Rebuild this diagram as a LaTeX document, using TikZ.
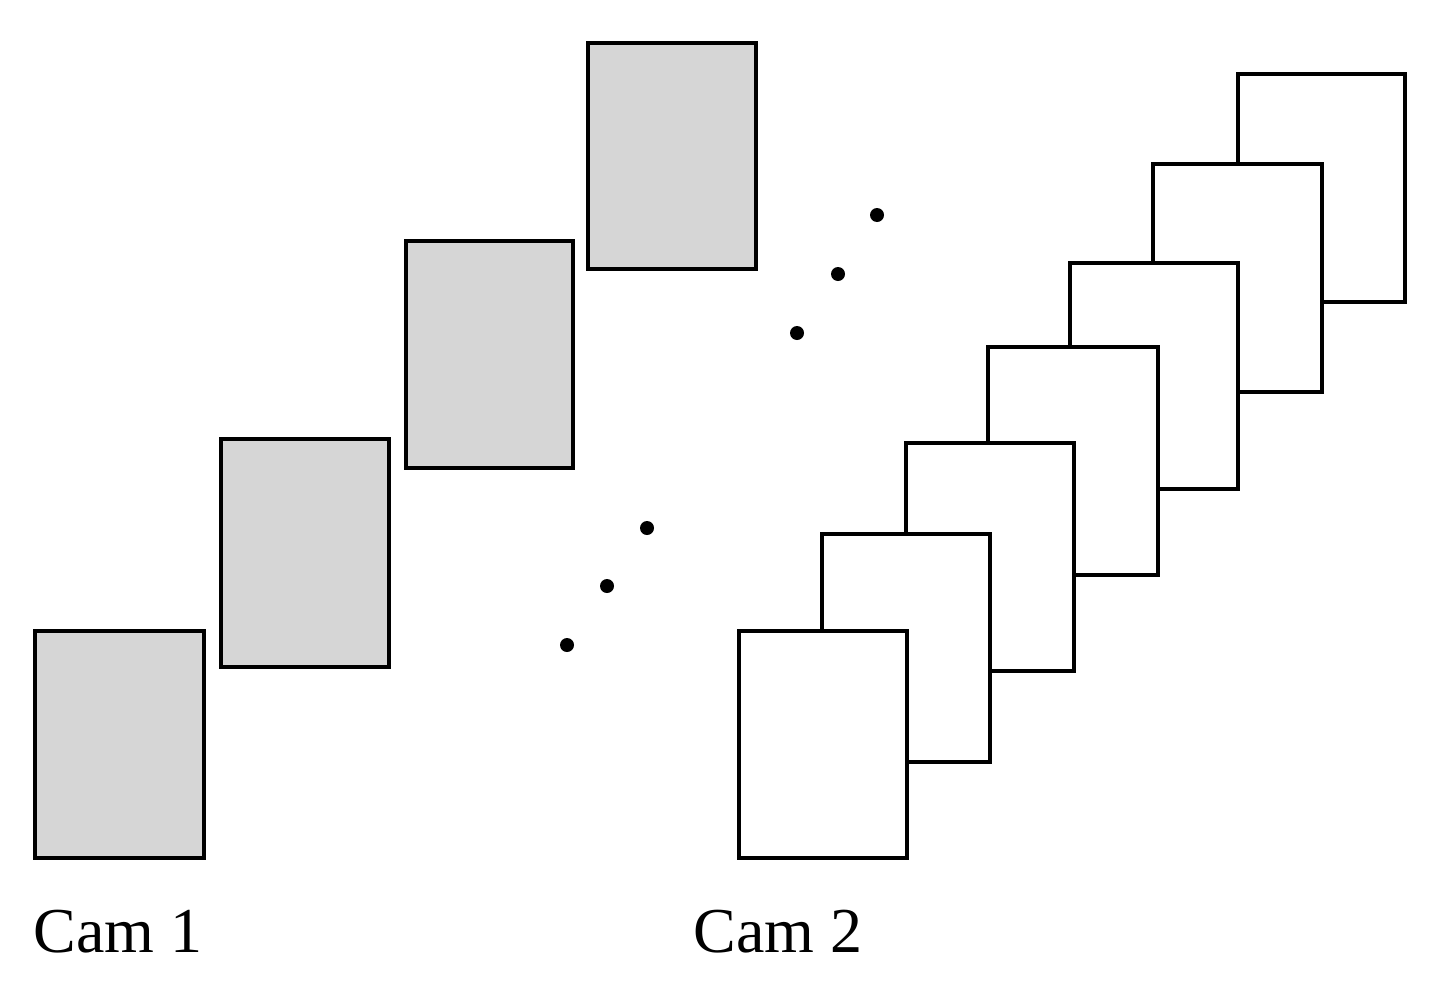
\documentclass[tikz,border=0pt]{standalone}
\usepackage{fontspec}
\setmainfont{Liberation Serif}
\begin{document}
\begin{tikzpicture}[x=1pt,y=-1pt,
  card/.style={draw=black,line width=4pt},
  gray/.style={card,fill=black!16},
  white/.style={card,fill=white},
  dot/.style={circle,fill=black,inner sep=0pt,minimum size=14pt},
  lab/.style={font=\fontsize{64}{64}\selectfont,inner sep=0pt}]
\useasboundingbox (0,0) rectangle (1437,996);
\draw[gray] (35,631) rectangle (204,858);
\draw[gray] (221,439) rectangle (389,667);
\draw[gray] (406,241) rectangle (573,468);
\draw[gray] (588,43) rectangle (756,269);
\draw[white] (1238,74) rectangle (1405,302);
\draw[white] (1153,164) rectangle (1322,392);
\draw[white] (1070,263) rectangle (1238,489);
\draw[white] (988,347) rectangle (1158,575);
\draw[white] (906,443) rectangle (1074,671);
\draw[white] (822,534) rectangle (990,762);
\draw[white] (739,631) rectangle (907,858);
\node[dot] (d1) at (567,645) {};
\node[dot] (d2) at (607,586) {};
\node[dot] (d3) at (647,528) {};
\node[dot] (d4) at (797,333) {};
\node[dot] (d5) at (838,274) {};
\node[dot] (d6) at (877,215) {};
\node[lab] (c1) at (118,932) {Cam 1};
\node[lab] (c2) at (778,932) {Cam 2};
\end{tikzpicture}
\end{document}
